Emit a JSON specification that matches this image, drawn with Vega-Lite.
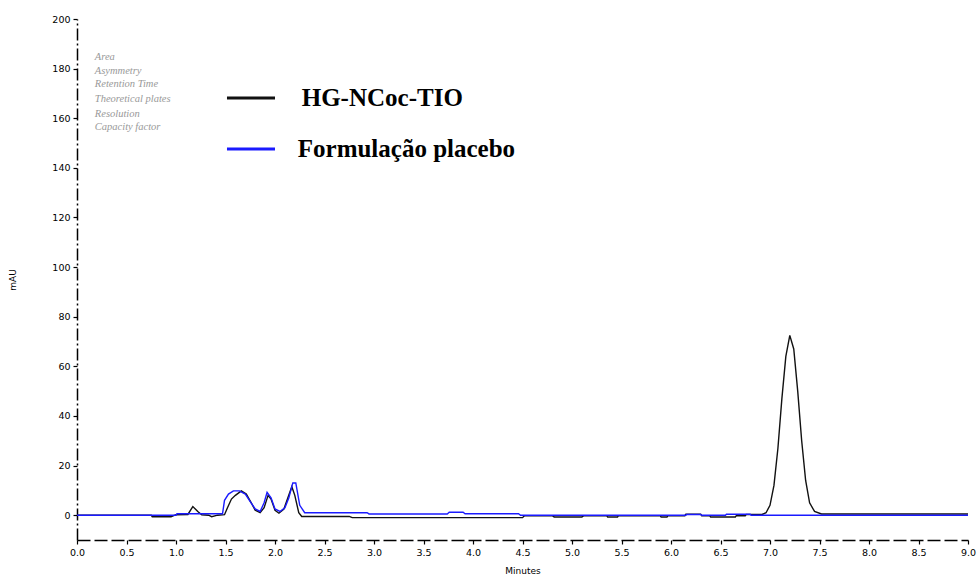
{
  "$schema": "https://vega.github.io/schema/vega-lite/v6.json",
  "width": 891,
  "height": 521,
  "autosize": {"type": "none"},
  "padding": {"left": 77, "top": 19, "right": 10, "bottom": 39},
  "background": "white",
  "config": {"view": {"stroke": null}},
  "datasets": {
    "traces": [
      {"t": 0.0, "v": 0, "s": "HG-NCoc-TIO"},
      {"t": 0.75, "v": 0, "s": "HG-NCoc-TIO"},
      {"t": 0.76, "v": -0.6, "s": "HG-NCoc-TIO"},
      {"t": 0.95, "v": -0.6, "s": "HG-NCoc-TIO"},
      {"t": 1.0, "v": 0.2, "s": "HG-NCoc-TIO"},
      {"t": 1.12, "v": 0.3, "s": "HG-NCoc-TIO"},
      {"t": 1.17, "v": 3.5, "s": "HG-NCoc-TIO"},
      {"t": 1.22, "v": 1.5, "s": "HG-NCoc-TIO"},
      {"t": 1.26, "v": 0.2, "s": "HG-NCoc-TIO"},
      {"t": 1.33, "v": 0.0, "s": "HG-NCoc-TIO"},
      {"t": 1.36, "v": -0.6, "s": "HG-NCoc-TIO"},
      {"t": 1.42, "v": 0.0, "s": "HG-NCoc-TIO"},
      {"t": 1.49, "v": 0.2, "s": "HG-NCoc-TIO"},
      {"t": 1.52, "v": 3.0, "s": "HG-NCoc-TIO"},
      {"t": 1.56, "v": 6.5, "s": "HG-NCoc-TIO"},
      {"t": 1.6, "v": 8.0, "s": "HG-NCoc-TIO"},
      {"t": 1.66, "v": 9.8, "s": "HG-NCoc-TIO"},
      {"t": 1.71, "v": 8.5, "s": "HG-NCoc-TIO"},
      {"t": 1.76, "v": 5.0, "s": "HG-NCoc-TIO"},
      {"t": 1.8, "v": 2.0, "s": "HG-NCoc-TIO"},
      {"t": 1.85, "v": 1.0, "s": "HG-NCoc-TIO"},
      {"t": 1.89, "v": 3.0, "s": "HG-NCoc-TIO"},
      {"t": 1.93, "v": 8.0, "s": "HG-NCoc-TIO"},
      {"t": 1.96, "v": 6.5, "s": "HG-NCoc-TIO"},
      {"t": 2.0, "v": 2.0, "s": "HG-NCoc-TIO"},
      {"t": 2.04, "v": 0.8, "s": "HG-NCoc-TIO"},
      {"t": 2.09, "v": 2.5, "s": "HG-NCoc-TIO"},
      {"t": 2.13, "v": 7.0, "s": "HG-NCoc-TIO"},
      {"t": 2.17, "v": 11.5, "s": "HG-NCoc-TIO"},
      {"t": 2.2, "v": 8.0, "s": "HG-NCoc-TIO"},
      {"t": 2.24, "v": 1.0, "s": "HG-NCoc-TIO"},
      {"t": 2.27, "v": -0.5, "s": "HG-NCoc-TIO"},
      {"t": 2.75, "v": -0.5, "s": "HG-NCoc-TIO"},
      {"t": 2.78, "v": -1.0, "s": "HG-NCoc-TIO"},
      {"t": 4.5, "v": -1.0, "s": "HG-NCoc-TIO"},
      {"t": 4.52, "v": -0.2, "s": "HG-NCoc-TIO"},
      {"t": 4.8, "v": -0.2, "s": "HG-NCoc-TIO"},
      {"t": 4.82, "v": -0.7, "s": "HG-NCoc-TIO"},
      {"t": 5.1, "v": -0.7, "s": "HG-NCoc-TIO"},
      {"t": 5.12, "v": -0.2, "s": "HG-NCoc-TIO"},
      {"t": 5.35, "v": -0.2, "s": "HG-NCoc-TIO"},
      {"t": 5.36, "v": -0.7, "s": "HG-NCoc-TIO"},
      {"t": 5.46, "v": -0.7, "s": "HG-NCoc-TIO"},
      {"t": 5.47, "v": -0.2, "s": "HG-NCoc-TIO"},
      {"t": 5.89, "v": -0.2, "s": "HG-NCoc-TIO"},
      {"t": 5.9, "v": -0.7, "s": "HG-NCoc-TIO"},
      {"t": 5.96, "v": -0.7, "s": "HG-NCoc-TIO"},
      {"t": 5.97, "v": -0.2, "s": "HG-NCoc-TIO"},
      {"t": 6.14, "v": -0.2, "s": "HG-NCoc-TIO"},
      {"t": 6.15, "v": 0.4, "s": "HG-NCoc-TIO"},
      {"t": 6.3, "v": 0.4, "s": "HG-NCoc-TIO"},
      {"t": 6.31, "v": -0.2, "s": "HG-NCoc-TIO"},
      {"t": 6.39, "v": -0.2, "s": "HG-NCoc-TIO"},
      {"t": 6.4, "v": -0.7, "s": "HG-NCoc-TIO"},
      {"t": 6.65, "v": -0.7, "s": "HG-NCoc-TIO"},
      {"t": 6.66, "v": -0.2, "s": "HG-NCoc-TIO"},
      {"t": 6.75, "v": -0.2, "s": "HG-NCoc-TIO"},
      {"t": 6.76, "v": 0.3, "s": "HG-NCoc-TIO"},
      {"t": 6.92, "v": 0.3, "s": "HG-NCoc-TIO"},
      {"t": 6.96, "v": 1.0, "s": "HG-NCoc-TIO"},
      {"t": 7.0, "v": 4.0, "s": "HG-NCoc-TIO"},
      {"t": 7.04, "v": 12.0, "s": "HG-NCoc-TIO"},
      {"t": 7.08, "v": 27.0, "s": "HG-NCoc-TIO"},
      {"t": 7.12, "v": 47.0, "s": "HG-NCoc-TIO"},
      {"t": 7.16, "v": 64.0, "s": "HG-NCoc-TIO"},
      {"t": 7.2, "v": 72.5, "s": "HG-NCoc-TIO"},
      {"t": 7.24, "v": 67.0, "s": "HG-NCoc-TIO"},
      {"t": 7.28, "v": 50.0, "s": "HG-NCoc-TIO"},
      {"t": 7.32, "v": 30.0, "s": "HG-NCoc-TIO"},
      {"t": 7.36, "v": 14.0, "s": "HG-NCoc-TIO"},
      {"t": 7.4, "v": 5.0, "s": "HG-NCoc-TIO"},
      {"t": 7.45, "v": 1.5, "s": "HG-NCoc-TIO"},
      {"t": 7.52, "v": 0.5, "s": "HG-NCoc-TIO"},
      {"t": 9.0, "v": 0.5, "s": "HG-NCoc-TIO"},
      {"t": 0.0, "v": 0, "s": "Formulação placebo"},
      {"t": 1.0, "v": 0, "s": "Formulação placebo"},
      {"t": 1.01, "v": 0.6, "s": "Formulação placebo"},
      {"t": 1.47, "v": 0.6, "s": "Formulação placebo"},
      {"t": 1.49, "v": 6.0, "s": "Formulação placebo"},
      {"t": 1.53, "v": 8.5, "s": "Formulação placebo"},
      {"t": 1.58, "v": 9.8, "s": "Formulação placebo"},
      {"t": 1.64, "v": 9.8, "s": "Formulação placebo"},
      {"t": 1.7, "v": 8.5, "s": "Formulação placebo"},
      {"t": 1.75, "v": 5.5, "s": "Formulação placebo"},
      {"t": 1.8, "v": 2.5, "s": "Formulação placebo"},
      {"t": 1.85, "v": 1.5, "s": "Formulação placebo"},
      {"t": 1.89, "v": 5.0, "s": "Formulação placebo"},
      {"t": 1.92, "v": 9.2, "s": "Formulação placebo"},
      {"t": 1.96, "v": 7.0, "s": "Formulação placebo"},
      {"t": 2.0, "v": 2.5, "s": "Formulação placebo"},
      {"t": 2.05, "v": 1.5, "s": "Formulação placebo"},
      {"t": 2.1, "v": 3.0, "s": "Formulação placebo"},
      {"t": 2.14, "v": 7.0, "s": "Formulação placebo"},
      {"t": 2.18, "v": 13.0, "s": "Formulação placebo"},
      {"t": 2.21, "v": 13.0, "s": "Formulação placebo"},
      {"t": 2.25, "v": 4.0, "s": "Formulação placebo"},
      {"t": 2.3, "v": 1.0, "s": "Formulação placebo"},
      {"t": 2.93, "v": 1.0, "s": "Formulação placebo"},
      {"t": 2.95, "v": 0.5, "s": "Formulação placebo"},
      {"t": 3.74, "v": 0.5, "s": "Formulação placebo"},
      {"t": 3.76, "v": 1.2, "s": "Formulação placebo"},
      {"t": 3.9, "v": 1.2, "s": "Formulação placebo"},
      {"t": 3.92, "v": 0.6, "s": "Formulação placebo"},
      {"t": 4.46, "v": 0.6, "s": "Formulação placebo"},
      {"t": 4.48, "v": 0.0, "s": "Formulação placebo"},
      {"t": 6.15, "v": 0.0, "s": "Formulação placebo"},
      {"t": 6.16, "v": 0.3, "s": "Formulação placebo"},
      {"t": 6.3, "v": 0.3, "s": "Formulação placebo"},
      {"t": 6.31, "v": 0.0, "s": "Formulação placebo"},
      {"t": 6.55, "v": 0.0, "s": "Formulação placebo"},
      {"t": 6.56, "v": 0.4, "s": "Formulação placebo"},
      {"t": 6.8, "v": 0.4, "s": "Formulação placebo"},
      {"t": 6.81, "v": 0.0, "s": "Formulação placebo"},
      {"t": 9.0, "v": 0.0, "s": "Formulação placebo"}
    ],
    "legend": [
      {"x1": 1.515, "x2": 2.0, "y": 168.2, "tx": 2.27, "label": "HG-NCoc-TIO", "s": "HG-NCoc-TIO"},
      {"x1": 1.515, "x2": 2.0, "y": 147.6, "tx": 2.23, "label": "Formulação placebo", "s": "Formulação placebo"}
    ],
    "notes": [
      {"x": 0.18, "y": 184.7, "label": "Area"},
      {"x": 0.18, "y": 179.2, "label": "Asymmetry"},
      {"x": 0.18, "y": 173.6, "label": "Retention Time"},
      {"x": 0.18, "y": 167.6, "label": "Theoretical plates"},
      {"x": 0.18, "y": 161.9, "label": "Resolution"},
      {"x": 0.18, "y": 156.3, "label": "Capacity factor"}
    ]
  },
  "layer": [
    {
      "data": {"name": "traces"},
      "mark": {"type": "line", "strokeWidth": 1.4, "interpolate": "linear"},
      "encoding": {
        "x": {
          "field": "t", "type": "quantitative",
          "scale": {"domain": [0, 9], "nice": false, "zero": false},
          "axis": {
            "title": "Minutes", "values": [0,0.5,1,1.5,2,2.5,3,3.5,4,4.5,5,5.5,6,6.5,7,7.5,8,8.5,9],
            "format": ".1f", "grid": false, "domainDash": [13, 4], "domainColor": "#000", "domainWidth": 1.5,
            "tickColor": "#000", "tickSize": 4, "tickWidth": 1.2, "labelFont": "DejaVu Sans", "labelFontSize": 9.5, "labelColor": "#000",
            "labelPadding": 3, "titleFont": "DejaVu Sans", "titleFontSize": 9, "titleFontWeight": "normal",
            "titleColor": "#000", "titlePadding": 10, "labelFlush": false
          }
        },
        "y": {
          "field": "v", "type": "quantitative",
          "scale": {"domain": [-10, 200], "nice": false, "zero": false},
          "axis": {
            "title": "mAU", "values": [0,20,40,60,80,100,120,140,160,180,200],
            "grid": false, "domainDash": [12, 3, 2, 3], "domainColor": "#000", "domainWidth": 1.5,
            "tickColor": "#000", "tickSize": 4, "tickWidth": 1.2, "labelFont": "DejaVu Sans", "labelFontSize": 9.5, "labelColor": "#000",
            "labelPadding": 3, "titleFont": "DejaVu Sans", "titleFontSize": 9, "titleFontWeight": "normal",
            "titleColor": "#000", "titlePadding": 34
          }
        },
        "color": {
          "field": "s", "type": "nominal",
          "scale": {"domain": ["HG-NCoc-TIO", "Formulação placebo"], "range": ["#111111", "#1a1aff"]},
          "legend": null
        },
        "order": {"field": "t", "type": "quantitative"}
      }
    },
    {
      "mark": {"type": "rule", "color": "#000", "strokeWidth": 2},
      "encoding": {"y": {"datum": 200}}
    },
    {
      "mark": {"type": "rule", "color": "#000", "strokeWidth": 2},
      "encoding": {"x": {"datum": 9}}
    },
    {
      "data": {"name": "legend"},
      "mark": {"type": "rule", "strokeWidth": 3},
      "encoding": {
        "x": {"field": "x1", "type": "quantitative"},
        "x2": {"field": "x2"},
        "y": {"field": "y", "type": "quantitative"},
        "color": {"field": "s", "type": "nominal", "legend": null}
      }
    },
    {
      "data": {"name": "legend"},
      "mark": {"type": "text", "align": "left", "baseline": "middle", "font": "Liberation Serif", "fontSize": 25, "fontWeight": "bold", "color": "#000"},
      "encoding": {
        "x": {"field": "tx", "type": "quantitative"},
        "y": {"field": "y", "type": "quantitative"},
        "text": {"field": "label"}
      }
    },
    {
      "data": {"name": "notes"},
      "mark": {"type": "text", "align": "left", "baseline": "middle", "font": "Liberation Serif", "fontSize": 10.5, "fontStyle": "italic", "color": "#999999"},
      "encoding": {
        "x": {"field": "x", "type": "quantitative"},
        "y": {"field": "y", "type": "quantitative"},
        "text": {"field": "label"}
      }
    }
  ]
}
